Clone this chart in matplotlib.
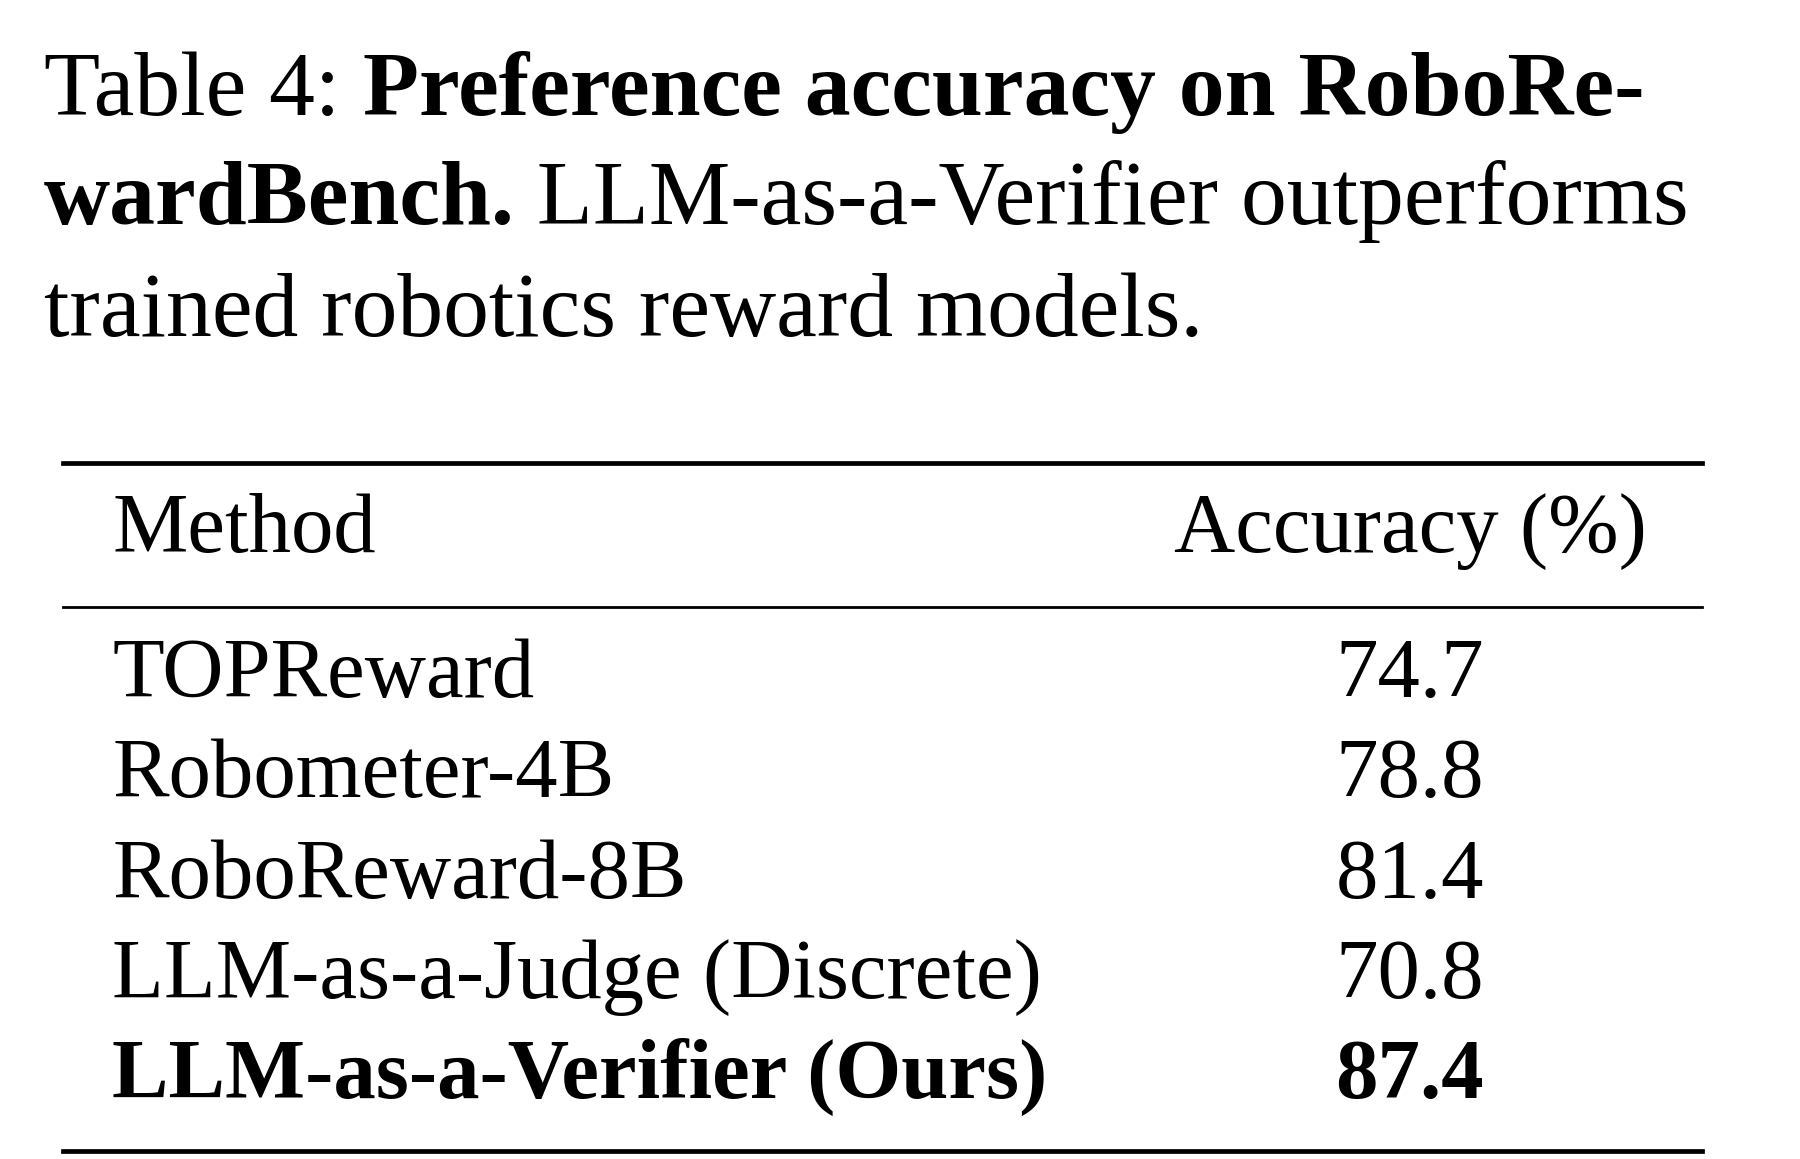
import matplotlib
matplotlib.use("Agg")
import matplotlib.pyplot as plt
from matplotlib.lines import Line2D

methods = ["TOPReward", "Robometer-4B", "RoboReward-8B", "LLM-as-a-Judge (Discrete)", "LLM-as-a-Verifier (Ours)"]
accuracy = [74.7, 78.8, 81.4, 70.8, 87.4]
bold_rows = [False, False, False, False, True]
header = ["Method", "Accuracy (%)"]

FONT = "Liberation Serif"
FS = 61
FT = 66
fig = plt.figure(figsize=(18, 11.59), dpi=100)
fig.patch.set_facecolor("white")
r = fig.canvas.get_renderer()
W, H = fig.bbox.width, fig.bbox.height

def X(px): return px / 1568
def Y(py): return 1 - py / 1007

title_lines = [
    [("Table 4: ", "normal"), ("Preference accuracy on RoboRe-", "bold")],
    [("wardBench.", "bold"), (" LLM-as-a-Verifier outperforms", "normal")],
    [("trained robotics reward models.", "normal")],
]
ys = [100, 195, 292]
for line, yb in zip(title_lines, ys):
    x = X(38)
    for s, w in line:
        t = fig.text(x, Y(yb), s, fontsize=FT, fontweight=w, family=FONT, va="baseline", ha="left")
        bb = t.get_window_extent(r)
        x += bb.width / W

def rule(y, lw):
    fig.add_artist(Line2D([X(55), X(1483)], [Y(y), Y(y)], color="black", lw=lw, transform=fig.transFigure))

rule(402, 3.4)
rule(527, 2.0)
rule(1000, 3.4)

fig.text(X(98), Y(462), header[0], fontsize=FS, family=FONT, va="center", ha="left")
fig.text(X(1435), Y(462), header[1], fontsize=FS, family=FONT, va="center", ha="right")

row_y = [588, 675, 762, 849, 936]
for m, a, b, y in zip(methods, accuracy, bold_rows, row_y):
    w = "bold" if b else "normal"
    fig.text(X(98), Y(y), m, fontsize=FS, family=FONT, fontweight=w, va="center", ha="left")
    fig.text(X(1228), Y(y), f"{a:.1f}", fontsize=FS, family=FONT, fontweight=w, va="center", ha="center")

fig.savefig("out.png", dpi=100, facecolor="white")
